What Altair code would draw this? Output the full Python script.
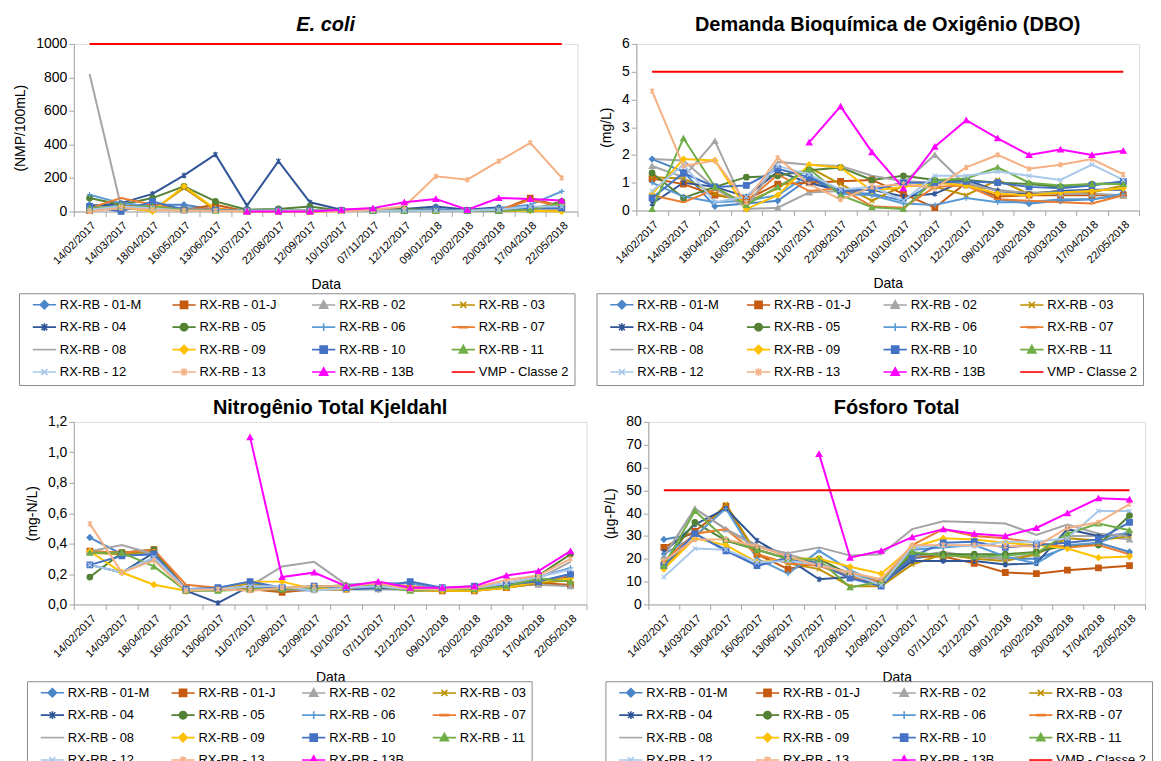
import altair as alt
import pandas as pd

FONT = "Liberation Sans"

dates = ["14/02/2017", "14/03/2017", "18/04/2017", "16/05/2017", "13/06/2017",
         "11/07/2017", "22/08/2017", "12/09/2017", "10/10/2017", "07/11/2017",
         "12/12/2017", "09/01/2018", "20/02/2018", "20/03/2018", "17/04/2018",
         "22/05/2018"]

series = ["RX-RB - 01-M", "RX-RB - 01-J", "RX-RB - 02", "RX-RB - 03",
          "RX-RB - 04", "RX-RB - 05", "RX-RB - 06", "RX-RB - 07",
          "RX-RB - 08", "RX-RB - 09", "RX-RB - 10", "RX-RB - 11",
          "RX-RB - 12", "RX-RB - 13", "RX-RB - 13B", "VMP - Classe 2"]

colors = ["#4A86C8", "#C55A11", "#A5A5A5", "#BF9000",
          "#2F5597", "#548235", "#5B9BD5", "#ED7D31",
          "#A5A5A5", "#FFC000", "#4472C4", "#70AD47",
          "#A9C8EA", "#F4B183", "#FF00FF", "#FF0000"]

# marker shapes drawn on the data points
X_PATH = "M-0.8,-0.8L0.8,0.8M-0.8,0.8L0.8,-0.8"
STAR_PATH = "M-0.75,-0.75L0.75,0.75M-0.75,0.75L0.75,-0.75M0,-1.05L0,1.05"
PLUS_PATH = "M-1,0L1,0M0,-1L0,1"
shapes = ["diamond", "square", "triangle-up", X_PATH,
          STAR_PATH, "circle", PLUS_PATH, "stroke",
          "stroke", "diamond", "square", "triangle-up",
          X_PATH, STAR_PATH, "triangle-up", "stroke"]

# legend symbols: a short line with the marker in its middle
LN = "M-3.6,0L3.6,0"
L_DIAMOND = LN + "M0,-1.3L1.3,0L0,1.3L-1.3,0Z"
L_SQUARE = LN + "M-1.1,-1.1L1.1,-1.1L1.1,1.1L-1.1,1.1Z"
L_TRI = LN + "M0,-1.3L1.25,1L-1.25,1Z"
L_X = LN + "M-0.95,-0.95L0.95,0.95M-0.95,0.95L0.95,-0.95"
L_STAR = LN + "M-0.9,-0.9L0.9,0.9M-0.9,0.9L0.9,-0.9M0,-1.2L0,1.2"
L_CIRCLE = LN + "M1.15,0A1.15,1.15,0,1,1,-1.15,0A1.15,1.15,0,1,1,1.15,0Z"
L_PLUS = LN + "M0,-1.2L0,1.2"
L_DASH = LN + "M-1.3,0.15L1.3,0.15L1.3,-0.15L-1.3,-0.15Z"
legend_shapes = [L_DIAMOND, L_SQUARE, L_TRI, L_X,
                 L_STAR, L_CIRCLE, L_PLUS, L_DASH,
                 LN, L_DIAMOND, L_SQUARE, L_TRI,
                 L_X, L_STAR, L_TRI, LN]

N = None

ecoli = {
    "RX-RB - 01-M": [40, 30, 40, 40, 10, 5, 5, 5, 5, 5, 5, 5, 5, 20, 20, 30],
    "RX-RB - 01-J": [5, 30, 40, 10, 40, 0, 0, 0, 5, 5, 5, 5, 5, 5, 80, 30],
    "RX-RB - 02": [10, 20, 20, 10, 10, 0, 0, 0, 5, 5, 5, 5, 5, 5, 10, 15],
    "RX-RB - 03": [10, 20, 5, 140, 10, 0, 0, 0, 5, 5, 5, 5, 5, 5, 10, 5],
    "RX-RB - 04": [30, 50, 105, 215, 340, 35, 300, 55, 10, 15, 15, 30, 10, 25, 5, 20],
    "RX-RB - 05": [80, 40, 80, 150, 60, 10, 15, 30, 5, 5, 15, 10, 5, 5, 10, 60],
    "RX-RB - 06": [100, 50, 30, 20, 10, 5, 5, 5, 5, 5, 5, 5, 5, 20, 40, 120],
    "RX-RB - 07": [20, 80, 40, 10, 20, 0, 5, 5, 5, 5, 5, 5, 5, 5, 70, 30],
    "RX-RB - 08": [820, 30, 20, 10, 10, 5, 5, 5, 5, 5, 5, 5, 5, 5, 10, 10],
    "RX-RB - 09": [10, 30, 0, 150, 15, 0, 0, 0, 5, 5, 5, 5, 5, 5, 5, 0],
    "RX-RB - 10": [30, 0, 60, 10, 10, 5, 5, 5, 5, 5, 5, 15, 5, 5, 20, 20],
    "RX-RB - 11": [20, 30, 30, 10, 5, 5, 5, 5, 5, 5, 5, 5, 5, 5, 10, 50],
    "RX-RB - 12": [10, 30, 20, 5, 5, 5, 5, 5, 5, 5, 5, 5, 5, 10, 30, 30],
    "RX-RB - 13": [0, 20, 10, 5, 5, 0, 0, 0, 0, 10, 30, 210, 190, 300, 410, 200],
    "RX-RB - 13B": [N, N, N, N, N, 0, 0, 0, 10, 20, 55, 75, 10, 80, 75, 65],
}
ecoli_limit = 1000

dbo = {
    "RX-RB - 01-M": [1.85, 1.4, 0.15, 0.25, 0.35, 1.15, 0.65, 0.6, 0.35, 1.0, 1.05, 0.4, 0.25, 0.35, 0.4, 0.55],
    "RX-RB - 01-J": [1.15, 0.95, 0.55, 0.4, 0.95, 1.0, 1.05, 1.1, 0.6, 0.1, 1.0, 0.5, 0.55, 0.55, 0.55, 0.55],
    "RX-RB - 02": [1.6, 1.2, 2.5, 0.05, 0.1, 0.65, 0.7, 0.75, 1.0, 2.0, 0.9, 0.75, 0.6, 0.6, 0.6, 0.55],
    "RX-RB - 03": [1.2, 1.15, 0.6, 0.3, 0.8, 1.55, 0.95, 0.35, 0.9, 0.85, 0.55, 1.1, 0.6, 0.7, 0.65, 0.9],
    "RX-RB - 04": [0.25, 1.0, 0.85, 0.5, 1.4, 1.0, 0.7, 0.75, 0.5, 0.6, 1.1, 0.7, 0.6, 0.7, 0.75, 0.75],
    "RX-RB - 05": [1.35, 0.45, 0.85, 1.2, 1.25, 1.45, 1.55, 1.1, 1.25, 1.1, 1.1, 1.0, 0.95, 0.85, 0.95, 1.0],
    "RX-RB - 06": [1.0, 0.5, 0.3, 0.35, 0.55, 1.3, 0.6, 0.55, 0.25, 0.2, 0.45, 0.3, 0.3, 0.4, 0.4, 0.6],
    "RX-RB - 07": [0.55, 0.3, 0.75, 0.3, 1.3, 0.7, 0.8, 0.15, 0.1, 0.85, 0.9, 0.4, 0.35, 0.3, 0.25, 0.55],
    "RX-RB - 08": [1.85, 1.8, 0.8, 0.1, 1.75, 1.65, 1.6, 1.25, 1.05, 1.0, 1.0, 0.7, 0.65, 0.65, 0.7, 0.8],
    "RX-RB - 09": [0.6, 1.85, 1.8, 0.05, 0.55, 1.65, 1.55, 0.7, 0.85, 1.0, 0.9, 0.6, 0.55, 0.65, 0.7, 0.8],
    "RX-RB - 10": [0.45, 1.35, 0.85, 0.9, 1.5, 1.2, 0.7, 0.75, 1.0, 1.0, 1.05, 1.0, 0.85, 0.8, 0.9, 1.05],
    "RX-RB - 11": [0.05, 2.6, 0.85, 0.2, 0.85, 1.5, 0.55, 0.12, 0.05, 1.1, 1.15, 1.55, 1.0, 0.9, 0.95, 0.95],
    "RX-RB - 12": [0.7, 1.65, 0.3, 0.5, 1.6, 1.3, 0.75, 0.85, 0.35, 1.25, 1.25, 1.4, 1.25, 1.1, 1.65, 1.1],
    "RX-RB - 13": [4.3, 1.6, 1.8, 0.3, 1.9, 0.95, 0.4, 0.85, 0.95, 0.8, 1.55, 2.0, 1.5, 1.65, 1.85, 1.3],
    "RX-RB - 13B": [N, N, N, N, N, 2.45, 3.75, 2.1, 0.8, 2.3, 3.25, 2.6, 2.0, 2.2, 2.0, 2.15],
}
dbo_limit = 5

ntk = {
    "RX-RB - 01-M": [0.44, 0.33, 0.33, 0.09, 0.1, 0.1, 0.1, 0.1, 0.1, 0.1, 0.1, 0.1, 0.1, 0.12, 0.15, 0.2],
    "RX-RB - 01-J": [0.35, 0.34, 0.36, 0.1, 0.1, 0.1, 0.08, 0.1, 0.1, 0.12, 0.1, 0.09, 0.09, 0.11, 0.14, 0.13],
    "RX-RB - 02": [0.35, 0.33, 0.33, 0.09, 0.1, 0.1, 0.1, 0.1, 0.1, 0.1, 0.1, 0.1, 0.1, 0.12, 0.13, 0.12],
    "RX-RB - 03": [0.34, 0.33, 0.35, 0.09, 0.1, 0.14, 0.1, 0.1, 0.1, 0.12, 0.09, 0.09, 0.09, 0.11, 0.14, 0.16],
    "RX-RB - 04": [0.26, 0.21, 0.34, 0.09, 0.01, 0.12, 0.11, 0.1, 0.1, 0.11, 0.1, 0.1, 0.11, 0.13, 0.16, 0.18],
    "RX-RB - 05": [0.18, 0.34, 0.36, 0.09, 0.1, 0.1, 0.1, 0.12, 0.12, 0.13, 0.1, 0.1, 0.1, 0.13, 0.19, 0.33],
    "RX-RB - 06": [0.26, 0.21, 0.3, 0.1, 0.11, 0.11, 0.1, 0.09, 0.13, 0.14, 0.14, 0.1, 0.11, 0.14, 0.18, 0.24],
    "RX-RB - 07": [0.35, 0.34, 0.36, 0.13, 0.11, 0.1, 0.1, 0.1, 0.12, 0.14, 0.12, 0.1, 0.1, 0.12, 0.15, 0.19],
    "RX-RB - 08": [0.35, 0.39, 0.33, 0.1, 0.1, 0.12, 0.25, 0.28, 0.13, 0.13, 0.1, 0.1, 0.1, 0.14, 0.17, 0.28],
    "RX-RB - 09": [0.35, 0.21, 0.13, 0.09, 0.1, 0.15, 0.15, 0.1, 0.1, 0.13, 0.1, 0.09, 0.09, 0.11, 0.15, 0.17],
    "RX-RB - 10": [0.26, 0.32, 0.33, 0.1, 0.11, 0.15, 0.11, 0.12, 0.11, 0.11, 0.15, 0.11, 0.12, 0.13, 0.15, 0.2],
    "RX-RB - 11": [0.34, 0.34, 0.25, 0.09, 0.09, 0.1, 0.1, 0.11, 0.13, 0.12, 0.09, 0.1, 0.1, 0.12, 0.17, 0.15],
    "RX-RB - 12": [0.26, 0.21, 0.31, 0.1, 0.1, 0.12, 0.12, 0.09, 0.11, 0.12, 0.1, 0.11, 0.11, 0.14, 0.18, 0.23],
    "RX-RB - 13": [0.53, 0.21, 0.29, 0.09, 0.1, 0.09, 0.11, 0.12, 0.12, 0.14, 0.1, 0.1, 0.11, 0.16, 0.19, 0.3],
    "RX-RB - 13B": [N, N, N, N, N, 1.1, 0.18, 0.21, 0.12, 0.15, 0.11, 0.11, 0.12, 0.19, 0.22, 0.35],
}

fosforo = {
    "RX-RB - 01-M": [28.5, 31, 24, 17, 20, 17, 12, 10, 20, 22, 21, 20, 20, 25, 27, 23],
    "RX-RB - 01-J": [25, 32, 43, 22, 15.5, 18, 12, 9, 21, 21, 18, 14, 13.5, 15, 16, 17],
    "RX-RB - 02": [21, 42, 33, 26, 22, 18, 14, 10, 21, 23, 21, 20, 22, 30, 30, 28.5],
    "RX-RB - 03": [17, 29, 44, 22, 18, 15.5, 8, 8, 17.5, 22, 20, 19, 22, 29, 28, 30],
    "RX-RB - 04": [23, 35, 42, 28, 20, 11, 12, 9, 19, 19, 19, 17.5, 18, 33, 30, 31],
    "RX-RB - 05": [18, 36, 28, 24, 20, 20, 13, 9.5, 22, 22, 22, 22, 23, 26, 26, 39],
    "RX-RB - 06": [22, 30, 42, 20, 13.5, 23.5, 15, 9, 24, 25, 26, 21, 18, 26, 27, 32],
    "RX-RB - 07": [19, 31, 33, 22, 18, 17, 12, 10, 26, 33, 30, 29, 27, 25, 26, 22],
    "RX-RB - 08": [21, 42, 33, 25, 22.5, 25, 21.5, 22, 33, 36.5, 36, 35.5, 30.5, 35, 31, 30],
    "RX-RB - 09": [15.5, 29, 26, 18.5, 20, 20, 16.5, 13.5, 25, 29, 28.5, 27, 26, 24.5, 20.5, 21],
    "RX-RB - 10": [17, 31, 23.5, 17, 20.5, 18, 11.5, 8, 21, 27, 27.5, 25, 26, 27, 28.5, 36],
    "RX-RB - 11": [17, 41, 28.5, 24, 20, 19.5, 7.5, 10, 23, 21.5, 21, 21.5, 22.5, 31, 35.5, 32.5],
    "RX-RB - 12": [12, 24.5, 24, 18.5, 19, 17.5, 13.5, 8.5, 25, 26, 25.5, 27.5, 27.5, 29, 41, 41],
    "RX-RB - 13": [19, 28.5, 28.5, 25.5, 21, 17, 14, 11, 26, 26, 26, 25.5, 25.5, 33.5, 36, 44],
    "RX-RB - 13B": [N, N, N, N, N, 66, 20.5, 23.5, 29.5, 33, 31, 30, 33.5, 40, 46.5, 46],
}
fosforo_limit = 50

ecoli_ticks = [0, 200, 400, 600, 800, 1000]
dbo_ticks = [0, 1, 2, 3, 4, 5, 6]
ntk_ticks = [0.0, 0.2, 0.4, 0.6, 0.8, 1.0, 1.2]
fosforo_ticks = [0, 10, 20, 30, 40, 50, 60, 70, 80]

VMP = "VMP - Classe 2"
NO_MARKER = ["RX-RB - 08", VMP]
color_of = dict(zip(series, colors))
shape_of = dict(zip(series, shapes))
lshape_of = dict(zip(series, legend_shapes))


def panel(values, limit, title, italic, ytitle, ticks, width, height,
          leg_x, leg_y, title_offset, col_pad, comma=False):
    rows = []
    for s in series:
        if s in values:
            for d, v in zip(dates, values[s]):
                if v is not None:
                    rows.append({"Data": d, "Series": s, "Valor": v})
    if limit is not None:
        for d in dates:
            rows.append({"Data": d, "Series": VMP, "Valor": limit})
    df = pd.DataFrame(rows)
    dom = [s for s in series if s in values] + ([VMP] if limit is not None else [])
    cscale = alt.Scale(domain=dom, range=[color_of[s] for s in dom])
    sscale = alt.Scale(domain=dom, range=[shape_of[s] for s in dom])
    lscale = alt.Scale(domain=dom, range=[lshape_of[s] for s in dom])
    legend = alt.Legend(
        title=None, orient="none", legendX=leg_x, legendY=leg_y, columns=4,
        direction="horizontal", labelFont=FONT, labelFontSize=13, labelColor="#000000",
        symbolSize=42, symbolStrokeWidth=1.6, rowPadding=7.5, columnPadding=col_pad,
        gridAlign="all", padding=5, strokeColor="#8c8c8c", labelOffset=9,
        symbolOffset=14,
    )
    if comma:
        ylab = "replace(format(datum.value, '.1f'), '.', ',')"
    else:
        ylab = "format(datum.value, 'd')"
    x = alt.X(
        "Data:N", sort=dates, bandPosition=0.5,
        scale=alt.Scale(type="band", domain=dates, paddingInner=0, paddingOuter=0),
        axis=alt.Axis(title="Data", titleFont=FONT, titleFontSize=14, titleFontWeight="normal",
                      titleColor="#000000", labelFont=FONT, labelFontSize=11,
                      labelColor="#000000", labelAngle=-45, tickBand="extent",
                      domainColor="#A6A6A6", tickColor="#A6A6A6", tickSize=5,
                      labelPadding=3, titlePadding=12, grid=False),
    )
    y = alt.Y(
        "Valor:Q", scale=alt.Scale(domain=[ticks[0], ticks[-1]], nice=False, zero=True),
        axis=alt.Axis(title=ytitle, titleFont=FONT, titleFontSize=14, titleFontWeight="normal",
                      titleColor="#000000", labelFont=FONT, labelFontSize=14,
                      labelColor="#000000", values=ticks, labelExpr=ylab,
                      domainColor="#A6A6A6", tickColor="#A6A6A6", tickSize=5,
                      grid=False, titlePadding=8),
    )
    lines = alt.Chart(df).mark_line(strokeWidth=2).encode(
        x=x, y=y,
        stroke=alt.Stroke("Series:N", scale=cscale, legend=None),
    )
    pts = alt.Chart(df).transform_filter(
        alt.FieldOneOfPredicate(field="Series", oneOf=[s for s in dom if s not in NO_MARKER])
    ).mark_point(filled=True, size=30, strokeWidth=1.3, opacity=1).encode(
        x=x, y=y,
        fill=alt.Fill("Series:N", scale=cscale, legend=None),
        stroke=alt.Stroke("Series:N", scale=cscale, legend=None),
        shape=alt.Shape("Series:N", scale=sscale, legend=None),
    )
    leg = alt.Chart(df).transform_filter("false").mark_point(
        filled=True, size=42, strokeWidth=1.6, opacity=1
    ).encode(
        x=x, y=y,
        fill=alt.Fill("Series:N", scale=cscale, legend=legend),
        stroke=alt.Stroke("Series:N", scale=cscale, legend=legend),
        shape=alt.Shape("Series:N", scale=lscale, legend=legend),
    )
    t = alt.TitleParams(text=title, font=FONT, fontSize=20, fontWeight="bold",
                        fontStyle="italic" if italic else "normal",
                        color="#000000", anchor="middle", offset=title_offset)
    return alt.layer(lines, pts, leg).resolve_scale(
        stroke="independent", fill="independent", shape="independent"
    ).properties(width=width, height=height, title=t)


def indep(c):
    return c.resolve_scale(stroke="independent", fill="independent", shape="independent",
                           x="independent", y="independent").resolve_legend(
        stroke="independent", fill="independent", shape="independent")


p1 = panel(ecoli, ecoli_limit, "E. coli", True, "(NMP/100mL)", ecoli_ticks,
           505, 168, -55, 250, 2, 13)
p2 = panel(dbo, dbo_limit, "Demanda Bioquímica de Oxigênio (DBO)", False, "(mg/L)",
           dbo_ticks, 504, 167, -40, 250, 2, 10)
p3 = panel(ntk, None, "Nitrogênio Total Kjeldahl", False, "(mg-N/L)", ntk_ticks,
           514, 183, -47, 260, -3, 13, comma=True)
p4 = panel(fosforo, fosforo_limit, "Fósforo Total", False, "(µg-P/L)", fosforo_ticks,
           498, 183, -43, 260, -3, 10)

chart = indep(alt.vconcat(
    indep(alt.hconcat(p1, p2, spacing=17)),
    indep(alt.hconcat(p3, p4, spacing=15)),
    spacing=11,
)).properties(
    padding={"left": 5, "top": 5, "right": 0, "bottom": 0}
).configure_view(stroke=None).configure(font=FONT, background="white")

chart.save("out.html", embed_options={"renderer": "svg", "actions": False})
